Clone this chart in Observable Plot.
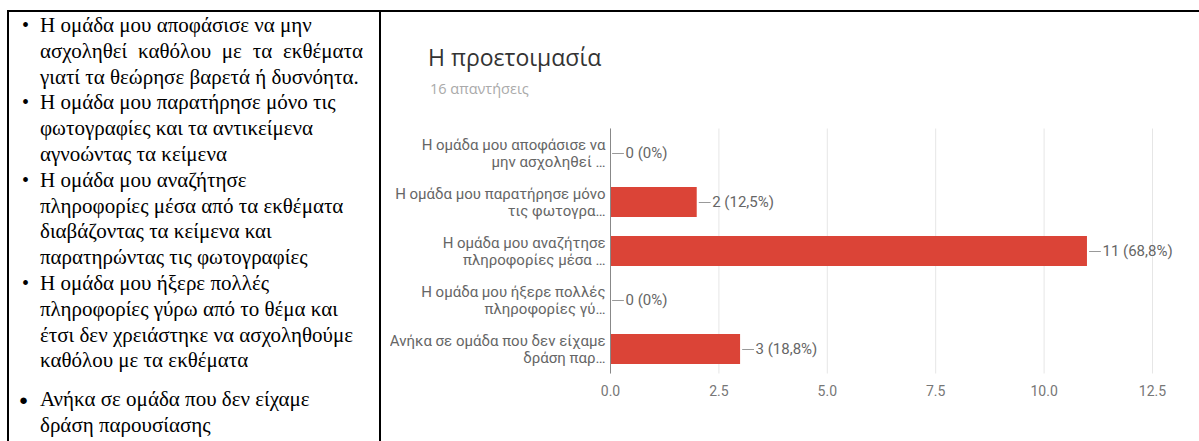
<!DOCTYPE html>
<html>
<head>
<meta charset="utf-8">
<script src="https://cdn.jsdelivr.net/npm/d3@7"></script>
<script src="https://cdn.jsdelivr.net/npm/@observablehq/plot@0.6"></script>
<style>
  html, body { margin: 0; padding: 0; background: #fff; }
  #page { position: relative; width: 1199px; height: 441px; overflow: hidden; background: #fff; }
  .rule { position: absolute; background: #000; }
  .ln { position: absolute; white-space: nowrap; font-family: "Liberation Serif", "Times New Roman", serif; font-size: 21px; line-height: 24px; color: #000; }
  .bul { position: absolute; font-family: "Liberation Serif", "Times New Roman", serif; color: #000; line-height: 24px; }
  #title { position: absolute; left: 428px; top: 41px; font-family: "Open Sans", Roboto, sans-serif; font-size: 23px; color: #333; white-space: nowrap; }
  #sub { position: absolute; left: 430px; top: 79px; font-family: "Open Sans", Roboto, sans-serif; font-size: 14.5px; color: #aaa; white-space: nowrap; }
  #chart { position: absolute; left: 390px; top: 100px; width: 809px; height: 341px; overflow: hidden; }
  #chart svg { max-width: none !important; }
</style>
</head>
<body>
<div id="page">
  <div class="rule" style="left:7px;top:10px;width:1192px;height:2px;"></div>
  <div class="rule" style="left:7px;top:10px;width:2px;height:431px;"></div>
  <div class="rule" style="left:379px;top:10px;width:2px;height:431px;"></div>
  <div id="left"></div>
  <div id="title"></div>
  <div id="sub"></div>
  <div id="chart"></div>
</div>
<script>
// ---- data ----
const title = "Η προετοιμασία";
const subtitle = "16 απαντήσεις";
const categories = [
  "Η ομάδα μου αποφάσισε να\nμην ασχοληθεί …",
  "Η ομάδα μου παρατήρησε μόνο\nτις φωτογρα…",
  "Η ομάδα μου αναζήτησε\nπληροφορίες μέσα …",
  "Η ομάδα μου ήξερε πολλές\nπληροφορίες γύ…",
  "Ανήκα σε ομάδα που δεν είχαμε\nδράση παρ…"
];
const counts = [0, 2, 11, 0, 3];
const percents = ["0%", "12,5%", "68,8%", "0%", "18,8%"];
const xTicks = [0, 2.5, 5, 7.5, 10, 12.5];
const listItems = [
  ["Η ομάδα μου αποφάσισε να μην", "ασχοληθεί καθόλου με τα εκθέματα", "γιατί τα θεώρησε βαρετά ή δυσνόητα."],
  ["Η ομάδα μου παρατήρησε μόνο τις", "φωτογραφίες και τα αντικείμενα", "αγνοώντας τα κείμενα"],
  ["Η ομάδα μου αναζήτησε", "πληροφορίες μέσα από τα εκθέματα", "διαβάζοντας τα κείμενα και", "παρατηρώντας τις φωτογραφίες"],
  ["Η ομάδα μου ήξερε πολλές", "πληροφορίες γύρω από το θέμα και", "έτσι δεν χρειάστηκε να ασχοληθούμε", "καθόλου με τα εκθέματα"],
  ["Ανήκα σε ομάδα που δεν είχαμε", "δράση παρουσίασης"]
];

// ---- left text list ----
const left = document.getElementById("left");
let y = 13;
const lh = 25.8;
listItems.forEach((lines, k) => {
  const last = k === listItems.length - 1;
  if (last) y += 13;
  const b = document.createElement("div");
  b.className = "bul";
  b.textContent = last ? "●" : "•";
  b.style.left = last ? "19px" : "22px";
  b.style.top = (last ? y + 1 : y) + "px";
  b.style.fontSize = last ? "15px" : "20px";
  left.appendChild(b);
  lines.forEach((t, i) => {
    const d = document.createElement("div");
    d.className = "ln";
    d.textContent = t;
    d.style.left = "40px";
    d.style.top = y + "px";
    if (k === 0 && i === 1) {
      d.style.width = "323px";
      d.style.textAlign = "justify";
      d.style.textAlignLast = "justify";
      d.style.whiteSpace = "normal";
    }
    left.appendChild(d);
    y += lh;
  });
});

document.getElementById("title").textContent = title;
document.getElementById("sub").textContent = subtitle;

// ---- chart ----
const data = categories.map((c, i) => ({cat: c, count: counts[i], pct: percents[i]}));
const fmt = d3.format(".1f");
const chart = Plot.plot({
  width: 809,
  height: 341,
  marginLeft: 220,
  marginRight: 47,
  marginTop: 28.5,
  marginBottom: 67.5,
  style: {fontFamily: "Roboto, 'Open Sans', sans-serif", fontSize: "15px", background: "transparent", overflow: "visible", maxWidth: "none"},
  x: {domain: [0, 12.5], ticks: xTicks, tickFormat: fmt, label: null},
  y: {domain: categories, paddingInner: 0.388, paddingOuter: 0.194, label: null},
  marks: [
    Plot.gridX(xTicks, {stroke: "#e6e6e6", strokeOpacity: 1}),
    Plot.axisX(xTicks, {tickSize: 0, tickPadding: 12, tickFormat: fmt, fill: "#777", fontSize: 14, label: null}),
    Plot.axisY({tickSize: 0, tickPadding: 5, lineHeight: 1.13, fill: "#666", label: null}),
    Plot.barX(data, {x: "count", y: "cat", fill: "#db4437"}),
    Plot.ruleX([0], {stroke: "#888"}),
    Plot.vector(data, {
      x: "count", y: "cat", rotate: 90, length: 11, anchor: "start", dx: 2,
      stroke: "#999", strokeWidth: 1,
      shape: {draw(ctx, l) { ctx.moveTo(0, 0); ctx.lineTo(0, -l); }}
    }),
    Plot.text(data, {x: "count", y: "cat", text: d => `${d.count} (${d.pct})`, dx: 15, textAnchor: "start", fill: "#666"})
  ]
});
document.getElementById("chart").appendChild(chart);
</script>
</body>
</html>
